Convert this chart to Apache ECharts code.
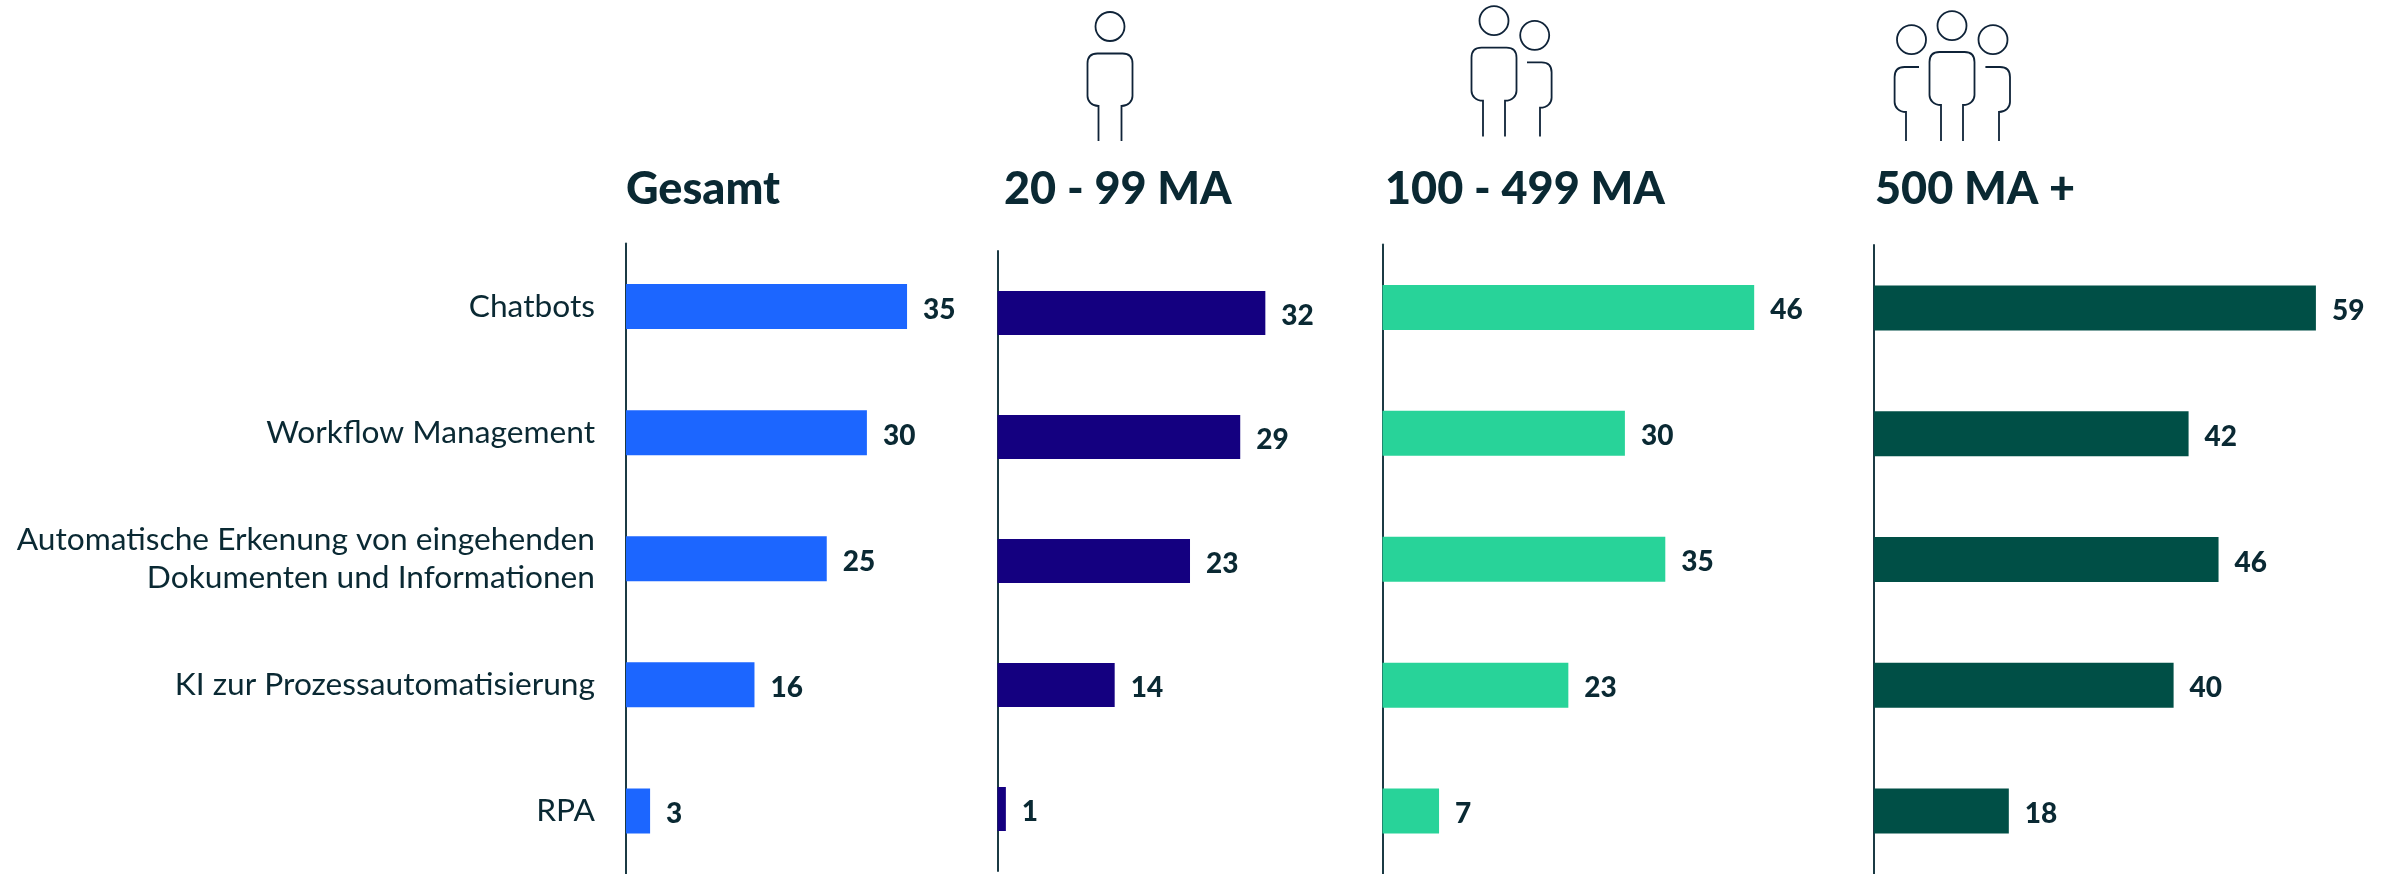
<!DOCTYPE html>
<html><head><meta charset="utf-8">
<style>html,body{margin:0;padding:0;background:#fff}#c{width:2392px;height:874px}</style>
<script src="https://cdn.jsdelivr.net/npm/echarts@6/dist/echarts.min.js"></script>
</head><body><div id="c"></div>
<script>
const categories = ['Chatbots','Workflow Management','Automatische Erkenung von eingehenden\nDokumenten und Informationen','KI zur Prozessautomatisierung','RPA'];
const panelTitles = ['Gesamt','20 - 99 MA','100 - 499 MA','500 MA +'];
const gesamt = [35,30,25,16,3];
const ma20 = [32,29,23,14,1];
const ma100 = [46,30,35,23,7];
const ma500 = [59,42,46,40,18];
const seriesValues = [gesamt, ma20, ma100, ma500];
const colors = ['#1c66ff','#140080','#28d399','#004f46'];
const TEXT = '#0a2933', FONT = 'Lato';
const AXMAX = 60;
const layout = [
  {l:626, t:243.5, h:634, u:8.03, bw:45, tx:626},
  {l:997.5, t:251, h:620, u:8.37, bw:44, tx:1004},
  {l:1382.5, t:244.5, h:630, u:8.08, bw:45, tx:1385},
  {l:1874, t:245, h:630, u:7.49, bw:45, tx:1875}
];
// outline shape for the people icons
echarts.graphic.registerShape('iconOutline', echarts.graphic.extendShape({
  shape:{d:''},
  buildPath(ctx, shape){
    const re = /([MLQC])([^MLQC]*)/g; let m;
    while((m = re.exec(shape.d))){
      const a = m[2].trim().split(/\s+/).map(Number);
      if(m[1]==='M') ctx.moveTo(a[0],a[1]);
      if(m[1]==='L') ctx.lineTo(a[0],a[1]);
      if(m[1]==='Q') ctx.quadraticCurveTo(a[0],a[1],a[2],a[3]);
      if(m[1]==='C') ctx.bezierCurveTo(a[0],a[1],a[2],a[3],a[4],a[5]);
    }
  }
}));
const ICON = {fill:'none',stroke:'#0f2338',lineWidth:1.8};
const outline = d => ({type:'iconOutline',shape:{d},style:ICON,silent:true});
const head = (cx,cy) => ({type:'circle',shape:{cx,cy,r:14.5},style:ICON,silent:true});
function person(cx, headY, top, bottom, end, hw, lw){
  const r = 10;
  return [head(cx,headY), outline(
    `M${cx-lw} ${end}L${cx-lw} ${bottom}C${cx-hw+4} ${bottom} ${cx-hw} ${bottom-5} ${cx-hw} ${bottom-10}L${cx-hw} ${top+r}Q${cx-hw} ${top} ${cx-hw+r} ${top}L${cx+hw-r} ${top}Q${cx+hw} ${top} ${cx+hw} ${top+r}L${cx+hw} ${bottom-10}C${cx+hw} ${bottom-5} ${cx+hw-4} ${bottom} ${cx+lw} ${bottom}L${cx+lw} ${end}`)];
}
function sidePerson(hx, hy, open, out, leg, top, bottom, end, dir){
  const r = 10;
  return [head(hx,hy), outline(
    `M${open} ${top}L${out-dir*r} ${top}Q${out} ${top} ${out} ${top+r}L${out} ${bottom-10}C${out} ${bottom-5} ${out-dir*4} ${bottom} ${leg} ${bottom}L${leg} ${end}`)];
}
const graphics = [
  ...person(1110,26.5,53.5,106,141,22.5,11.5),
  ...person(1494,20.7,47.7,100.7,136.5,22.5,11),
  ...sidePerson(1534.7,35.3,1527,1551.6,1540,62.3,107.7,136.5,1),
  ...person(1952,25.7,52,105,141,22.5,11),
  ...sidePerson(1911.5,39.7,1919,1894.6,1906,67,112,141,-1),
  ...sidePerson(1993,39.7,1985.4,2010,1999,67,112,141,1)
];
const option = {
  backgroundColor:'#fff',
  animation:false,
  title: panelTitles.map((t,i)=>({text:t,left:layout[i].tx,top:167,padding:0,
    textStyle:{fontFamily:FONT,fontWeight:900,fontSize:45,color:TEXT}})),
  grid: layout.map(g=>({left:g.l,top:g.t,height:g.h,width:g.u*AXMAX})),
  xAxis: layout.map((g,i)=>({gridIndex:i,type:'value',min:0,max:AXMAX,show:false})),
  yAxis: layout.map((g,i)=>({gridIndex:i,type:'category',inverse:true,data:categories,
    axisLine:{show:true,lineStyle:{color:'#1b3a44',width:2}},axisTick:{show:false},
    axisLabel:{show:i===0,margin:31,align:'right',fontFamily:FONT,fontSize:31.7,lineHeight:38,color:TEXT}})),
  series: seriesValues.map((v,i)=>({type:'bar',xAxisIndex:i,yAxisIndex:i,data:v,barWidth:layout[i].bw,
    itemStyle:{color:colors[i]},
    label:{show:true,position:'right',distance:16,offset:[0,3],fontFamily:FONT,fontWeight:900,fontSize:28,color:TEXT}})),
  graphic: graphics
};
echarts.init(document.getElementById('c')).setOption(option);
</script></body></html>
